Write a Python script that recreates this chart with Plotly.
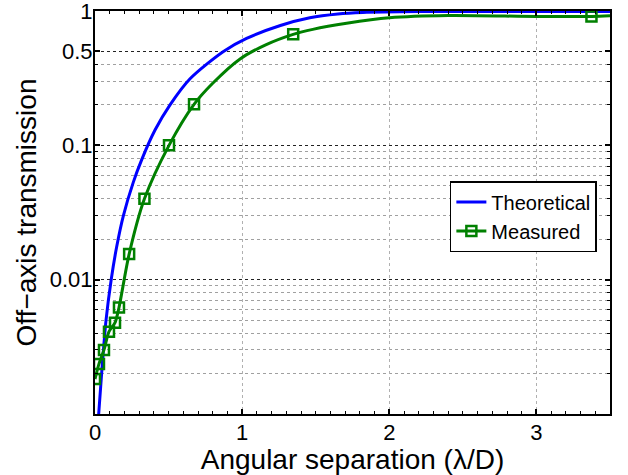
import plotly.graph_objects as go

# Theoretical curve
theo_x = [0.025, 0.045, 0.075, 0.11, 0.147, 0.193, 0.26, 0.317, 0.408, 0.51, 0.646,
          0.873, 1.03, 1.26, 1.46, 1.65, 1.82, 2.2, 2.8, 3.5]
theo_y = [0.001, 0.002, 0.005, 0.01, 0.0175, 0.03, 0.053, 0.078, 0.13, 0.20, 0.313,
          0.50, 0.625, 0.78, 0.89, 0.95, 0.975, 0.99, 0.99, 0.99]

# Measured points
meas_x = [0.0, 0.027, 0.061, 0.095, 0.136, 0.163, 0.232, 0.336, 0.503, 0.673, 1.347, 3.374]
meas_y = [0.00182, 0.00236, 0.0030, 0.0041, 0.00478, 0.0062, 0.0155, 0.040, 0.10, 0.202, 0.67, 0.91]

# Measured fitted curve
fit_x = [0.0, 0.027, 0.061, 0.095, 0.136, 0.163, 0.232, 0.336, 0.503, 0.673, 0.80, 0.986,
         1.16, 1.347, 1.48, 1.71, 2.0, 2.4, 3.0, 3.374, 3.5]
fit_y = [0.00182, 0.00236, 0.0030, 0.0041, 0.00478, 0.0062, 0.0155, 0.040, 0.10, 0.202, 0.29, 0.44,
         0.56, 0.67, 0.73, 0.81, 0.89, 0.925, 0.91, 0.91, 0.92]

y_tickvals = [0.01, 0.1, 0.5, 1]
y_ticktext = ["0.01", "0.1", "0.5", "1"]
y_minor = [0.002, 0.003, 0.004, 0.005, 0.006, 0.007, 0.008, 0.009,
           0.02, 0.03, 0.04, 0.05, 0.06, 0.07, 0.08, 0.09,
           0.2, 0.3, 0.4]
x_tickvals = [0, 1, 2, 3]

BLUE = "#0000ff"
GREEN = "#008000"
FONT = "Liberation Sans, Arial, sans-serif"

fig = go.Figure()
fig.add_trace(go.Scatter(x=theo_x, y=theo_y, mode="lines", name="Theoretical",
                         line=dict(color=BLUE, width=3, shape="spline", smoothing=0.8)))
fig.add_trace(go.Scatter(x=fit_x, y=fit_y, mode="lines", showlegend=False,
                         line=dict(color=GREEN, width=3, shape="spline", smoothing=0.8), hoverinfo="skip"))
fig.add_trace(go.Scatter(x=meas_x, y=meas_y, mode="markers", showlegend=False,
                         marker=dict(symbol="square-open", size=10, color=GREEN,
                                     line=dict(width=2.5, color=GREEN))))
# legend proxy
fig.add_trace(go.Scatter(x=[None], y=[None], mode="lines+markers", name="Measured",
                         line=dict(color=GREEN, width=3),
                         marker=dict(symbol="square-open", size=10, color=GREEN,
                                     line=dict(width=2.5, color=GREEN))))

fig.update_layout(
    width=628, height=475,
    margin=dict(l=95, r=18, t=11, b=61),
    paper_bgcolor="white", plot_bgcolor="white",
    font=dict(family=FONT, color="black", size=22),
    legend=dict(x=0.9745, y=0.578, xanchor="right", yanchor="top",
                bgcolor="white", bordercolor="black", borderwidth=1.5,
                font=dict(size=20, family=FONT, color="black"),
                tracegroupgap=0),
)
fig.update_xaxes(
    range=[0, 3.5], tickmode="array", tickvals=x_tickvals, automargin=False,
    ticklabelstandoff=-2,
    ticks="inside", ticklen=5, tickwidth=1.5, tickcolor="black",
    showline=True, linecolor="black", linewidth=2, mirror="allticks",
    showgrid=True, gridcolor="#b0b0b0", griddash="dot", gridwidth=1,
    zeroline=False,
    tickfont=dict(size=22, family=FONT),
    minor=dict(dtick=0.1, tick0=0, ticks="inside", ticklen=3, tickcolor="black", tickwidth=1, showgrid=False),
    title=dict(text="Angular separation (λ/D)", font=dict(size=28, family=FONT), standoff=0),
)
fig.update_yaxes(
    type="log", range=[-3, 0], tickmode="array", tickvals=y_tickvals, ticktext=y_ticktext,
    automargin=False, ticklabelstandoff=-4, ticklabeloverflow="allow",
    ticks="inside", ticklen=5, tickwidth=1.5, tickcolor="black",
    showline=True, linecolor="black", linewidth=2, mirror="allticks",
    showgrid=True, gridcolor="#222222", griddash="dot", gridwidth=1,
    zeroline=False,
    tickfont=dict(size=22, family=FONT),
    minor=dict(tickmode="array", tickvals=y_minor, ticks="inside", ticklen=3, tickcolor="black", tickwidth=1,
               showgrid=True, gridcolor="#a0a0a0", griddash="dot", gridwidth=1),
    title=dict(text="Off−axis transmission", font=dict(size=28, family=FONT), standoff=5),
)

fig.write_html("out.html", config={"displayModeBar": False},
               post_script="document.body.style.margin='0';document.body.style.overflow='hidden';")
